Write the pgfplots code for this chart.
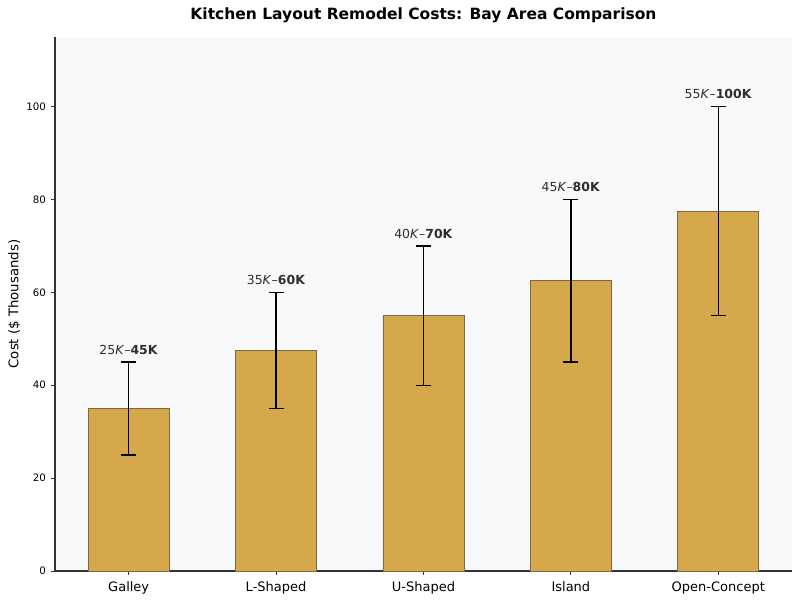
\documentclass[border=0pt]{standalone}
\usepackage{pgfplots}
\pgfplotsset{compat=1.18}
\usepackage{fontspec}
\setmainfont{DejaVu Sans}
\definecolor{barfill}{HTML}{D4A84B}
\definecolor{baredge}{HTML}{7D6A45}
\definecolor{bgcol}{HTML}{F8F9FA}
\definecolor{spine}{HTML}{333333}
\begin{document}
\begin{tikzpicture}
\useasboundingbox (-39.75pt,-20.96pt) rectangle ++(578.16pt,433.62pt);
\begin{axis}[
  at={(0,0)}, anchor=south west,
  scale only axis,
  width=532.6pt, height=385.9pt,
  xmin=-0.5, xmax=4.5,
  ymin=0, ymax=115,
  axis background/.style={fill=bgcol},
  axis x line*=bottom, axis y line*=left,
  axis line style={spine, line width=0.9pt},
  x axis line style={-}, y axis line style={-},
  xtick={0,1,2,3,4},
  xticklabels={Galley,L-Shaped,U-Shaped,Island,Open-Concept},
  ytick={0,20,40,60,80,100},
  tick style={spine, line width=0.6pt},
  major tick length=3pt,
  tick align=outside,
  x tick label style={font=\fontsize{9.4pt}{11pt}\selectfont, yshift=-1pt},
  y tick label style={font=\fontsize{7.4pt}{9pt}\selectfont},
  /pgf/number format/assume math mode=true,
  ylabel={Cost (\$ Thousands)},
  ylabel style={font=\fontsize{9.6pt}{11pt}\selectfont, yshift=-2.5pt},
  title={\textbf{Kitchen Layout Remodel Costs: Bay Area Comparison}},
  title style={font=\fontsize{11.2pt}{13pt}\selectfont, yshift=1pt},
  clip=false,
]
\addplot[ybar, bar width=0.55, fill=barfill, draw=baredge, line width=0.5pt,
  error bars/.cd, y dir=both, y explicit,
  error bar style={black, line width=1.1pt},
  error mark options={rotate=90, mark size=5.4pt, line width=1.1pt, black}]
  table[x=x, y=y, y error plus=ep, y error minus=em] {
x y ep em
0 35 10 10
1 47.5 12.5 12.5
2 55 15 15
3 62.5 17.5 17.5
4 77.5 22.5 22.5
};
\tikzset{lbl/.style={anchor=base, inner sep=0pt, font=\fontsize{9pt}{11pt}\selectfont, text=black!82}}
\node[lbl] at (axis cs:0,46.7) {25\textit{K}–\textbf{45K}};
\node[lbl] at (axis cs:1,61.7) {35\textit{K}–\textbf{60K}};
\node[lbl] at (axis cs:2,71.7) {40\textit{K}–\textbf{70K}};
\node[lbl] at (axis cs:3,81.7) {45\textit{K}–\textbf{80K}};
\node[lbl] at (axis cs:4,101.7) {55\textit{K}–\textbf{100K}};
\end{axis}
\end{tikzpicture}
\end{document}
